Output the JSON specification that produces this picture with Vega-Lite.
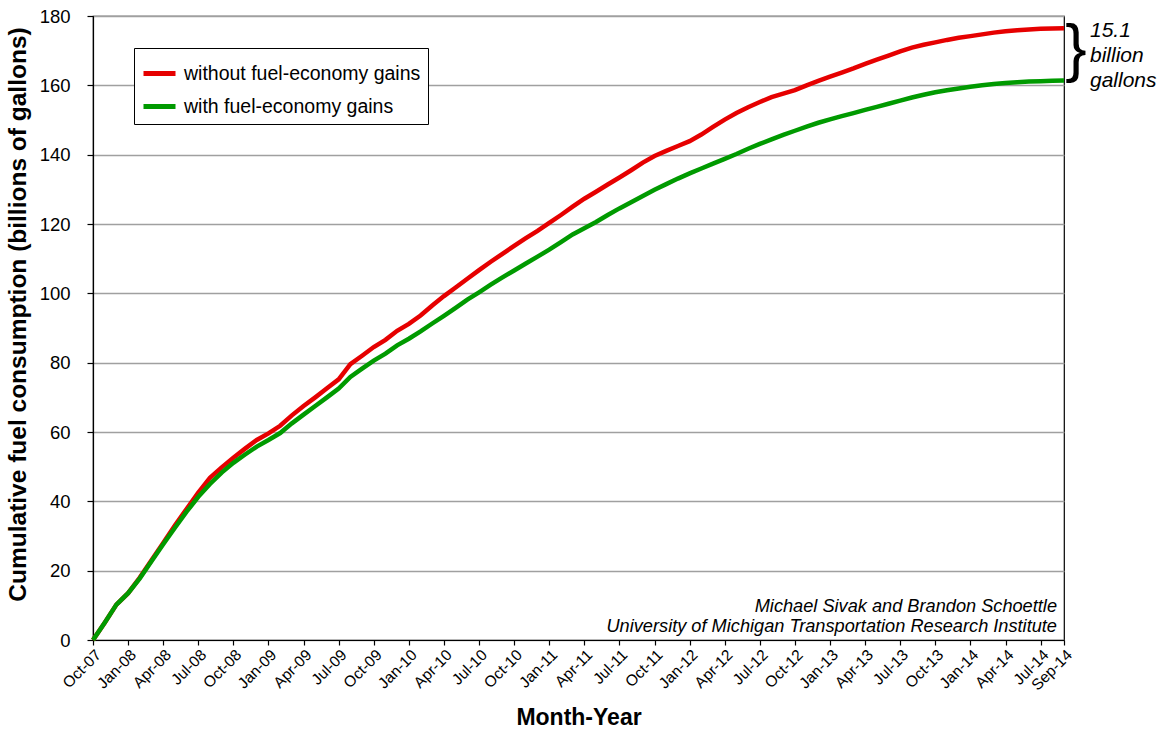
{
  "$schema": "https://vega.github.io/schema/vega-lite/v6.json",
  "width": 971,
  "height": 624,
  "autosize": "none",
  "padding": {"left": 93, "top": 16, "right": 100, "bottom": 89},
  "background": "white",
  "config": {
    "font": "Liberation Sans",
    "view": {"stroke": "black", "strokeWidth": 1.2},
    "axis": {"labelColor": "black", "titleColor": "black", "domainColor": "black", "tickColor": "black", "domainWidth": 1.2, "tickWidth": 1.2}
  },
  "datasets": {
    "series": [
      {"month": "Oct-07", "without": 0, "with": 0},
      {"month": "Nov-07", "without": 5, "with": 5},
      {"month": "Dec-07", "without": 10.2, "with": 10.2},
      {"month": "Jan-08", "without": 13.5, "with": 13.5},
      {"month": "Feb-08", "without": 18, "with": 17.8},
      {"month": "Mar-08", "without": 23, "with": 22.7},
      {"month": "Apr-08", "without": 28, "with": 27.6},
      {"month": "May-08", "without": 33, "with": 32.4},
      {"month": "Jun-08", "without": 37.8, "with": 37},
      {"month": "Jul-08", "without": 42.5, "with": 41.3},
      {"month": "Aug-08", "without": 46.8, "with": 45},
      {"month": "Sep-08", "without": 49.8, "with": 48.3},
      {"month": "Oct-08", "without": 52.6, "with": 51.1},
      {"month": "Nov-08", "without": 55.2, "with": 53.5},
      {"month": "Dec-08", "without": 57.7, "with": 55.8},
      {"month": "Jan-09", "without": 59.6, "with": 57.7},
      {"month": "Feb-09", "without": 61.8, "with": 59.7},
      {"month": "Mar-09", "without": 64.8, "with": 62.5},
      {"month": "Apr-09", "without": 67.5, "with": 65},
      {"month": "May-09", "without": 70, "with": 67.5},
      {"month": "Jun-09", "without": 72.6, "with": 70},
      {"month": "Jul-09", "without": 75.2, "with": 72.5},
      {"month": "Aug-09", "without": 79.6, "with": 75.9},
      {"month": "Sep-09", "without": 82, "with": 78.3},
      {"month": "Oct-09", "without": 84.5, "with": 80.6},
      {"month": "Nov-09", "without": 86.6, "with": 82.6},
      {"month": "Dec-09", "without": 89.2, "with": 85},
      {"month": "Jan-10", "without": 91.2, "with": 86.9},
      {"month": "Feb-10", "without": 93.6, "with": 89},
      {"month": "Mar-10", "without": 96.5, "with": 91.3},
      {"month": "Apr-10", "without": 99.2, "with": 93.5},
      {"month": "May-10", "without": 101.7, "with": 95.8},
      {"month": "Jun-10", "without": 104.2, "with": 98.2},
      {"month": "Jul-10", "without": 106.7, "with": 100.3},
      {"month": "Aug-10", "without": 109.1, "with": 102.5},
      {"month": "Sep-10", "without": 111.4, "with": 104.6},
      {"month": "Oct-10", "without": 113.7, "with": 106.6},
      {"month": "Nov-10", "without": 115.9, "with": 108.6},
      {"month": "Dec-10", "without": 118, "with": 110.6},
      {"month": "Jan-11", "without": 120.3, "with": 112.6},
      {"month": "Feb-11", "without": 122.6, "with": 114.8},
      {"month": "Mar-11", "without": 125, "with": 117},
      {"month": "Apr-11", "without": 127.3, "with": 118.8},
      {"month": "May-11", "without": 129.3, "with": 120.6},
      {"month": "Jun-11", "without": 131.4, "with": 122.6},
      {"month": "Jul-11", "without": 133.4, "with": 124.5},
      {"month": "Aug-11", "without": 135.5, "with": 126.3},
      {"month": "Sep-11", "without": 137.7, "with": 128.1},
      {"month": "Oct-11", "without": 139.6, "with": 129.9},
      {"month": "Nov-11", "without": 141.1, "with": 131.5},
      {"month": "Dec-11", "without": 142.5, "with": 133.1},
      {"month": "Jan-12", "without": 143.9, "with": 134.6},
      {"month": "Feb-12", "without": 145.8, "with": 136},
      {"month": "Mar-12", "without": 148, "with": 137.4},
      {"month": "Apr-12", "without": 150.1, "with": 138.8},
      {"month": "May-12", "without": 152, "with": 140.2},
      {"month": "Jun-12", "without": 153.7, "with": 141.7},
      {"month": "Jul-12", "without": 155.2, "with": 143.1},
      {"month": "Aug-12", "without": 156.6, "with": 144.4},
      {"month": "Sep-12", "without": 157.6, "with": 145.7},
      {"month": "Oct-12", "without": 158.6, "with": 146.9},
      {"month": "Nov-12", "without": 160, "with": 148.1},
      {"month": "Dec-12", "without": 161.3, "with": 149.2},
      {"month": "Jan-13", "without": 162.5, "with": 150.2},
      {"month": "Feb-13", "without": 163.7, "with": 151.1},
      {"month": "Mar-13", "without": 164.9, "with": 152},
      {"month": "Apr-13", "without": 166.2, "with": 152.9},
      {"month": "May-13", "without": 167.4, "with": 153.8},
      {"month": "Jun-13", "without": 168.6, "with": 154.7},
      {"month": "Jul-13", "without": 169.8, "with": 155.6},
      {"month": "Aug-13", "without": 170.9, "with": 156.5},
      {"month": "Sep-13", "without": 171.7, "with": 157.3},
      {"month": "Oct-13", "without": 172.4, "with": 158},
      {"month": "Nov-13", "without": 173.1, "with": 158.6},
      {"month": "Dec-13", "without": 173.7, "with": 159.1},
      {"month": "Jan-14", "without": 174.2, "with": 159.6},
      {"month": "Feb-14", "without": 174.7, "with": 160},
      {"month": "Mar-14", "without": 175.2, "with": 160.4},
      {"month": "Apr-14", "without": 175.6, "with": 160.7},
      {"month": "May-14", "without": 175.9, "with": 160.9},
      {"month": "Jun-14", "without": 176.1, "with": 161.1},
      {"month": "Jul-14", "without": 176.3, "with": 161.2},
      {"month": "Aug-14", "without": 176.4, "with": 161.3},
      {"month": "Sep-14", "without": 176.5, "with": 161.4}
    ],
    "anchor": [{"note": "annotation"}]
  },
  "layer": [
    {
      "data": {"name": "series"},
      "transform": [{"fold": ["without", "with"], "as": ["series", "gallons"]}],
      "mark": {"type": "line", "strokeWidth": 4.5},
      "encoding": {
        "x": {
          "field": "month",
          "type": "ordinal",
          "sort": null,
          "scale": {"type": "point", "padding": 0},
          "axis": {
            "values": ["Oct-07","Jan-08","Apr-08","Jul-08","Oct-08","Jan-09","Apr-09","Jul-09","Oct-09","Jan-10","Apr-10","Jul-10","Oct-10","Jan-11","Apr-11","Jul-11","Oct-11","Jan-12","Apr-12","Jul-12","Oct-12","Jan-13","Apr-13","Jul-13","Oct-13","Jan-14","Apr-14","Jul-14","Sep-14"],
            "title": "Month-Year",
            "titleFontSize": 23,
            "titleFontWeight": "bold",
            "titleY": 84,
            "titleBaseline": "alphabetic",
            "labelAngle": -45,
            "labelAlign": "right",
            "labelBaseline": "top",
            "labelFontSize": 15.5,
            "labelPadding": 2,
            "tickSize": 5,
            "grid": false,
            "labelOverlap": false
          }
        },
        "y": {
          "field": "gallons",
          "type": "quantitative",
          "scale": {"domain": [0, 180], "nice": false},
          "axis": {
            "values": [0,20,40,60,80,100,120,140,160,180],
            "title": "Cumulative fuel consumption (billions of gallons)",
            "titleFontSize": 24.5,
            "titleFontWeight": "bold",
            "titleX": -75,
            "titleY": 298,
            "titleAlign": "center",
            "titleBaseline": "middle",
            "titleAngle": -90,
            "labelFontSize": 18.5,
            "labelPadding": 17,
            "tickSize": 6,
            "grid": true,
            "gridColor": "#a0a0a0",
            "gridWidth": 1.5
          }
        },
        "color": {
          "field": "series",
          "type": "nominal",
          "scale": {"domain": ["without", "with"], "range": ["#e60000", "#009a00"]},
          "legend": {
            "orient": "none",
            "legendX": 41,
            "legendY": 32,
            "title": null,
            "strokeColor": "black",
            "fillColor": "white",
            "padding": 7,
            "symbolType": "stroke",
            "symbolStrokeWidth": 5,
            "symbolSize": 1024,
            "labelFontSize": 19.5,
            "labelColor": "black",
            "labelOffset": 6,
            "labelLimit": 0,
            "rowPadding": 4,
            "labelExpr": "datum.label == 'without' ? 'without fuel-economy gains' : 'with fuel-economy gains'"
          }
        }
      }
    },
    {
      "data": {"name": "anchor"},
      "mark": {"type": "text", "text": ["Michael Sivak and Brandon Schoettle", "University of Michigan Transportation Research Institute"], "align": "right", "baseline": "alphabetic", "fontStyle": "italic", "fontSize": 18.2, "lineHeight": 20, "dx": -7, "color": "black"},
      "encoding": {"x": {"datum": "Sep-14", "type": "ordinal"}, "y": {"datum": 8.1, "type": "quantitative"}}
    },
    {
      "data": {"name": "anchor"},
      "mark": {"type": "text", "text": ["15.1", "billion", "gallons"], "align": "left", "baseline": "alphabetic", "fontStyle": "italic", "fontSize": 21, "lineHeight": 25, "dx": 26, "color": "black"},
      "encoding": {"x": {"datum": "Sep-14", "type": "ordinal"}, "y": {"datum": 173.9, "type": "quantitative"}}
    },
    {
      "data": {"name": "anchor"},
      "mark": {"type": "text", "text": "}", "align": "center", "baseline": "middle", "fontSize": 64, "dx": 12, "color": "black"},
      "encoding": {"x": {"datum": "Sep-14", "type": "ordinal"}, "y": {"datum": 170, "type": "quantitative"}}
    }
  ]
}
